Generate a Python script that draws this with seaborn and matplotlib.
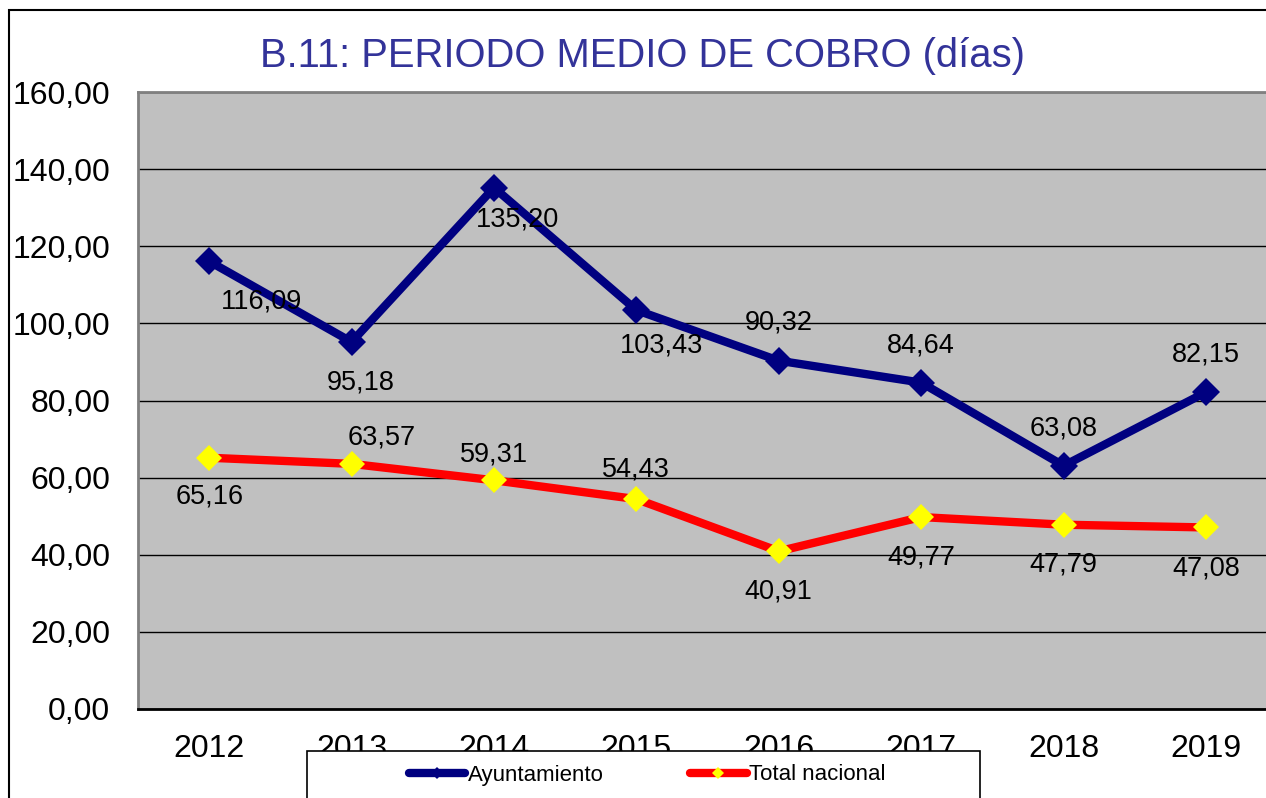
import numpy as np
import pandas as pd
import matplotlib
matplotlib.use("Agg")
import matplotlib.pyplot as plt
from matplotlib.ticker import FuncFormatter
from matplotlib.patches import Rectangle
import seaborn as sns

years = ["2012", "2013", "2014", "2015", "2016", "2017", "2018", "2019"]
ayuntamiento = [116.09, 95.18, 135.20, 103.43, 90.32, 84.64, 63.08, 82.15]
total_nacional = [65.16, 63.57, 59.31, 54.43, 40.91, 49.77, 47.79, 47.08]

# label offsets in pixels (dx, dy) relative to each point
off_ayto = [(52, -40), (9, -41), (24, -32), (25, -35), (0, 38), (0, 37), (0, 37), (0, 38)]
off_nac = [(0, -39), (30, 26), (0, 26), (0, 30), (0, -40), (0, -40), (0, -40), (0, -41)]

sns.set_style("white")
plt.rcParams["font.family"] = ["Liberation Sans", "DejaVu Sans"]
plt.rcParams["text.color"] = "black"

df = pd.DataFrame({"pos": np.arange(len(years)), "Ayuntamiento": ayuntamiento,
                   "Total nacional": total_nacional})

W, H = 1266, 798
fig = plt.figure(figsize=(W / 100, H / 100), dpi=100)
ax = fig.add_axes([138 / W, 1 - 709 / H, 8 * 142.4 / W, 617 / H])
ax.set_facecolor("#C0C0C0")

sns.lineplot(data=df, x="pos", y="Ayuntamiento", ax=ax, color="#000080", linewidth=6,
             marker="D", markersize=14, markeredgewidth=0, markerfacecolor="#000080",
             label="Ayuntamiento")
sns.lineplot(data=df, x="pos", y="Total nacional", ax=ax, color="#FF0000", linewidth=6,
             marker="D", markersize=13, markeredgewidth=0, markerfacecolor="#FFFF00",
             label="Total nacional")

for i, (v, o) in enumerate(zip(ayuntamiento, off_ayto)):
    ax.annotate(f"{v:.2f}".replace(".", ","), (i, v), xytext=o, textcoords="offset pixels",
                ha="center", va="center", fontsize=19.5, color="black")
for i, (v, o) in enumerate(zip(total_nacional, off_nac)):
    ax.annotate(f"{v:.2f}".replace(".", ","), (i, v), xytext=o, textcoords="offset pixels",
                ha="center", va="center", fontsize=19.5, color="black")

ax.set_xlim(-0.5, len(years) - 0.5)
ax.set_ylim(0, 160)
ax.set_yticks(np.arange(0, 161, 20))
ax.yaxis.set_major_formatter(FuncFormatter(lambda v, p: f"{v:.2f}".replace(".", ",")))
ax.set_xticks(df["pos"])
ax.set_xticklabels(years)
ax.tick_params(axis="y", length=0, pad=20, labelsize=23, labelcolor="black")
ax.tick_params(axis="x", length=0, pad=18, labelsize=23, labelcolor="black")
ax.set_xlabel("")
ax.set_ylabel("")
ax.grid(axis="y", color="black", linewidth=1)
ax.set_axisbelow(True)
for s in ["top", "left", "right"]:
    ax.spines[s].set_color("#808080")
    ax.spines[s].set_linewidth(2)
ax.spines["bottom"].set_color("black")
ax.spines["bottom"].set_linewidth(2)

fig.text(642 / W, 1 - 56 / H, "B.11: PERIODO MEDIO DE COBRO (días)", ha="center",
         va="center", fontsize=28.8, color="#333399")

# outer chart border
fig.patches.append(Rectangle((9 / W, -0.1), 2, 1.1 - 10 / H, transform=fig.transFigure,
                             fill=False, edgecolor="black", linewidth=1.5))

# legend box
handles, labels = ax.get_legend_handles_labels()
ax.get_legend().remove()
fig.patches.append(Rectangle((307 / W, -0.1), (980 - 307) / W, 0.1 + 1 - 751 / H,
                             transform=fig.transFigure, facecolor="white",
                             edgecolor="black", linewidth=1.2, zorder=5))
leg = fig.legend(handles, labels, loc="center", bbox_to_anchor=(647 / W, 1 - 775 / H),
                 ncol=2, frameon=False, fontsize=16, handlelength=2.55, handletextpad=0.1,
                 columnspacing=3.9, markerscale=0.45, labelcolor="black")
leg.set_zorder(6)

fig.savefig("out.png", dpi=100)
